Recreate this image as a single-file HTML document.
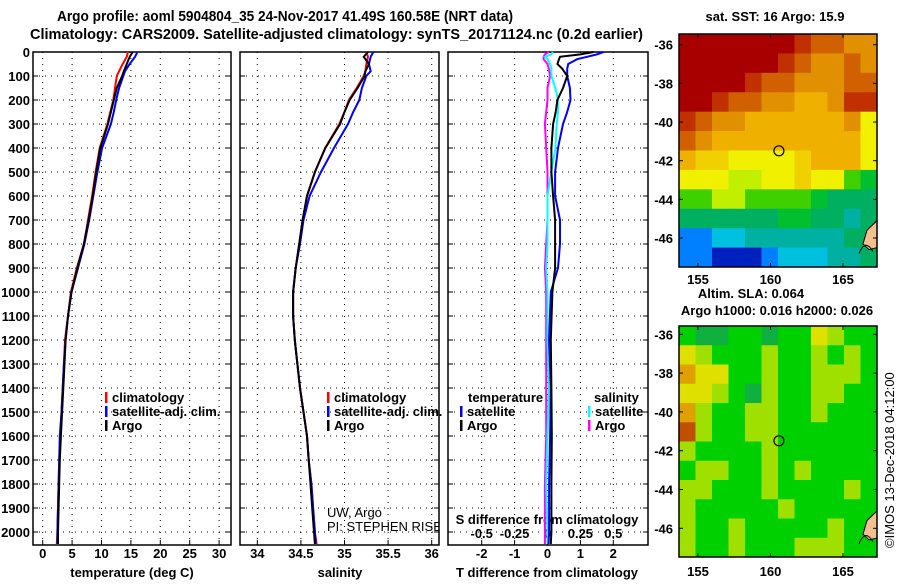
<!DOCTYPE html>
<html><head><meta charset="utf-8">
<style>
body{margin:0;background:#fff;width:900px;height:580px;overflow:hidden;font-family:"Liberation Sans",Arial,sans-serif}
svg text{font-family:"Liberation Sans",Arial,sans-serif}
.b{font-weight:bold;font-size:13px}
</style></head>
<body>
<svg id="s" width="900" height="580" xmlns="http://www.w3.org/2000/svg">
<text x="57" y="21" textLength="456" lengthAdjust="spacingAndGlyphs" font-weight="bold" font-size="15">Argo profile: aoml 5904804_35 24-Nov-2017 41.49S 160.58E (NRT data)</text>
<text x="30" y="39" textLength="613" lengthAdjust="spacingAndGlyphs" font-weight="bold" font-size="15">Climatology: CARS2009. Satellite-adjusted climatology: synTS_20171124.nc (0.2d earlier)</text>
<text x="775" y="21" text-anchor="middle" font-weight="bold" font-size="13">sat. SST: 16 Argo: 15.9</text>
<text x="751" y="298" text-anchor="middle" font-weight="bold" font-size="13">Altim. SLA: 0.064</text>
<text x="777" y="315" text-anchor="middle" font-weight="bold" font-size="13">Argo h1000: 0.016 h2000: 0.026</text>
<text transform="translate(894,548) rotate(-90)" font-size="13">©IMOS 13-Dec-2018 04:12:00</text>
<g id="g"></g>
</svg>
<script>
// ---- profile data ----
const depths=[0,20,50,80,100,150,200,250,300,400,500,600,700,800,900,1000,1100,1200,1300,1400,1500,1600,1700,1800,1900,2000,2050];
const tempClim=[14.5,14.3,13.6,13,12.6,12.3,12,11.5,11,9.7,9.0,8.4,7.7,7.0,5.8,4.8,4.3,3.8,3.6,3.4,3.2,3.0,2.8,2.7,2.6,2.5,2.4];
const tempArgo=[15.3,14.8,14.3,13.8,13.5,12.6,12.1,11.6,11.1,9.8,9.1,8.5,7.8,7.0,5.9,4.9,4.3,3.9,3.7,3.5,3.3,3.1,2.9,2.8,2.7,2.6,2.6];
const tempSat=[16.1,15.7,14.8,14.0,13.7,13.0,12.5,12.1,11.6,10.1,9.3,8.6,7.9,7.1,6.0,4.9,4.3,3.9,3.6,3.4,3.2,2.9,2.8,2.7,2.6,2.5,2.5];
const salClim=[35.25,35.27,35.25,35.24,35.22,35.14,35.05,35.0,34.94,34.78,34.66,34.57,34.52,34.48,34.44,34.41,34.41,34.43,34.46,34.49,34.53,34.57,34.59,34.62,34.64,34.66,34.68];
const salArgo=[35.27,35.22,35.28,35.24,35.23,35.15,35.06,35.0,34.95,34.78,34.66,34.57,34.52,34.48,34.44,34.41,34.41,34.43,34.46,34.49,34.53,34.57,34.59,34.61,34.63,34.65,34.66];
const salSat=[35.33,35.30,35.28,35.30,35.25,35.2,35.17,35.1,35.04,34.88,34.73,34.6,34.53,34.49,34.44,34.41,34.41,34.43,34.46,34.49,34.53,34.57,34.59,34.62,34.64,34.66,34.67];
const diffDepths=[0,10,20,30,50,70,100,150,200,250,300,400,500,600,700,800,900,1000,1200,1400,1600,1800,2000,2050];
const tDiffArgo=[1.4,1.0,0.38,0.35,0.3,0.45,0.6,0.47,0.3,0.25,0.17,0.12,0.12,0.17,0.23,0.23,0.23,0.15,0.1,0.12,0.13,0.12,0.12,0.1];
const tDiffSat=[1.7,1.5,1.2,0.9,0.63,0.6,0.6,0.68,0.7,0.6,0.47,0.32,0.23,0.23,0.38,0.38,0.32,0.1,0.05,0.1,0.08,0.05,0.05,0.03];
const sDiffArgo=[0.01,-0.02,-0.03,-0.03,0.0,0.01,0.02,0.0,0.0,-0.01,-0.02,-0.01,0.0,0.0,0.0,-0.01,-0.02,-0.01,-0.01,-0.01,-0.01,-0.02,-0.02,-0.02];
const sDiffSat=[0.04,0.03,-0.02,0.0,0.02,0.03,0.03,0.06,0.08,0.08,0.07,0.06,0.03,0.0,0.0,0.0,-0.01,0.0,0.0,0.01,0.0,-0.01,0.0,0.0];
const depthTicks=[0,100,200,300,400,500,600,700,800,900,1000,1100,1200,1300,1400,1500,1600,1700,1800,1900,2000];
const tempTicks=[0,5,10,15,20,25,30];
const salTicks=[34,34.5,35,35.5,36];
const salTickLabels=["34","34.5","35","35.5","36"];
const tDiffTicks=[-2,-1,0,1,2];
const sDiffTicks=[-0.5,-0.25,0,0.25,0.5];
const sDiffLabels=["-0.5","-0.25","0","0.25","0.5"];
// ---- map data ----
const sstGrid=[
[9,9,9,9,9,9,9,8.5,8,8,7.5,7.5],
[9,9,9,9,9,9,8.5,8,7.5,7.5,8,7.5],
[9,9,9,9,8.5,8,8,7.5,7.5,7.5,8,8],
[9,9,8.5,8,8,7.5,7.5,7,7,7.5,8.5,8.5],
[8.5,8,7.5,7.5,7,7,7,7,7,7,7.5,6],
[8,7.5,7,7,7,7,7,7,7,7,7,6],
[7,6.5,6.5,6,6,6,6,6.5,7,7,7,6],
[6,6,6,5.5,5.5,6,6,6.5,6,6,5,4.5],
[5,5,5.5,5.5,5,5,5,5,4.5,4,4,4],
[4,4,4,4,4,4,4.5,4.5,4,4,3.8,4],
[2.5,2.5,3,3,3.5,3.5,3.5,3.5,3.5,3.5,4,4],
[2,2,1.5,1,1.5,2.5,3,3,3,3.5,3.5,4]];
const slaGrid=[
[1,0,0,1,1,0,1,1,3,2,1,1],
[3,2,1,1,1,2,1,1,2,1,2,1],
[4,3,3,1,1,2,1,1,2,2,2,1],
[3,3,2,1,0,2,1,1,2,2,1,1],
[4,2,1,1,2,2,1,1,2,1,1,1],
[5,2,1,1,2,2,1,1,1,1,1,1],
[2,1,1,1,1,2,1,1,1,1,1,1],
[1,2,2,1,1,2,1,2,1,1,1,1],
[2,2,1,1,1,2,1,1,1,1,2,1],
[2,1,1,1,1,1,2,1,1,1,1,1],
[2,1,1,2,1,1,1,1,1,2,1,1],
[2,1,1,2,1,1,1,2,2,2,1,1]];
const lonTicks=[155,160,165];
const latTicks=[-36,-38,-40,-42,-44,-46];
const argoLon=160.58, argoLat=-41.49;

const NS="http://www.w3.org/2000/svg", G=document.getElementById('g');
function el(t,a,p){const e=document.createElementNS(NS,t);for(const k in a)e.setAttribute(k,a[k]);(p||G).appendChild(e);return e;}
const yD=d=>52+d*0.24;
const PT={x0:33,x1:231}, PS={x0:240,x1:439}, PD={x0:448,x1:648};
const xT=v=>42.7+v*5.88, xS=v=>257.3+(v-34)*87.2, xTd=v=>547.5+v*32.9, xSd=v=>547.5+v*131.6;
const plotTop=52,plotBot=545;

function frame(P,name){
  const r=el('rect',{x:P.x0,y:plotTop,width:P.x1-P.x0,height:plotBot-plotTop,fill:'none',stroke:'#000','stroke-width':1.5});
  
  
  depthTicks.forEach(d=>{
    const l=el('line',{x1:P.x0,x2:P.x1,y1:yD(d),y2:yD(d),stroke:'#000','stroke-dasharray':'1 5','stroke-width':1});
    
    
    el('line',{x1:P.x0,x2:P.x0+5,y1:yD(d),y2:yD(d),stroke:'#000'});
    el('line',{x1:P.x1-5,x2:P.x1,y1:yD(d),y2:yD(d),stroke:'#000'});
  });
}
function vgrid(P,ticks,f){ticks.forEach(v=>{
  const l=el('line',{x1:f(v),x2:f(v),y1:plotTop,y2:plotBot,stroke:'#000','stroke-dasharray':'1 5'});
  
  
  el('line',{x1:f(v),x2:f(v),y1:plotBot-5,y2:plotBot,stroke:'#000'});
});}
function txt(x,y,s,anchor,name,extra){
  const t=el('text',Object.assign({x:x,y:y,'text-anchor':anchor||'middle','class':'b'},extra||{}));t.textContent=s;
  
  
  return t;}
function line(xs,ds,f,color,name){
  const pts=xs.map((v,i)=>f(v).toFixed(1)+','+yD(ds[i]).toFixed(1)).join(' ');
  const p=el('polyline',{points:pts,fill:'none',stroke:color,'stroke-width':2});
  
  
}
function legend(x,y,color,label){
  el('rect',{x:x,y:y-10,width:2.5,height:11,fill:color});
  txt(x+7,y,label,'start','legend-entry',{'font-size':'12'});
}

// panel 1 temperature
frame(PT,'temperature-panel');
vgrid(PT,tempTicks,xT);
depthTicks.forEach(d=>txt(30,yD(d)+5,String(d),'end','depth-tick-label'));
tempTicks.forEach(v=>txt(xT(v),558,String(v),'middle','temp-tick-label'));
txt(132,577,'temperature (deg C)','middle','temperature-axis-title');
line(tempClim,depths,xT,'#f00','temp-climatology-line');
line(tempSat,depths,xT,'#00f','temp-satellite-line');
line(tempArgo,depths,xT,'#000','temp-argo-line');
legend(105,402,'#f00','climatology');legend(105,416,'#00f','satellite-adj. clim.');legend(105,430,'#000','Argo');

// panel 2 salinity
frame(PS,'salinity-panel');
vgrid(PS,salTicks,xS);
salTicks.forEach((v,i)=>txt(xS(v),558,salTickLabels[i],'middle','salinity-tick-label'));
txt(340,577,'salinity','middle','salinity-axis-title');
line(salClim,depths,xS,'#f00','sal-climatology-line');
line(salSat,depths,xS,'#00f','sal-satellite-line');
line(salArgo,depths,xS,'#000','sal-argo-line');
const cp=el('clipPath',{id:'cpS'});el('rect',{x:240,y:52,width:199,height:493},cp);
const cr=el('g',{'clip-path':'url(#cpS)'});
legend(327,402,'#f00','climatology');legend(327,416,'#00f','satellite-adj. clim.');legend(327,430,'#000','Argo');
let t1=el('text',{x:327,y:517,'font-size':'13'},cr);t1.textContent='UW, Argo';


let t2=el('text',{x:327,y:531,'font-size':'13'},cr);t2.textContent='PI: STEPHEN RISER';



// panel 3 differences
frame(PD,'difference-panel');
vgrid(PD,tDiffTicks,xTd);
tDiffTicks.forEach(v=>txt(xTd(v),558,String(v),'middle','tdiff-tick-label'));
sDiffTicks.forEach((v,i)=>txt(xSd(v),538,sDiffLabels[i],'middle','sdiff-tick-label'));
txt(547,524,'S difference from climatology','middle','sdiff-axis-title');
txt(547,577,'T difference from climatology','middle','tdiff-axis-title');
line(sDiffArgo,diffDepths,xSd,'#f0f','sdiff-argo-line');
line(sDiffSat,diffDepths,xSd,'#0ff','sdiff-satellite-line');
line(tDiffSat,diffDepths,xTd,'#00f','tdiff-satellite-line');
line(tDiffArgo,diffDepths,xTd,'#000','tdiff-argo-line');
txt(468,402,'temperature','start','legend-heading',{'font-size':'12'});
legend(460,416,'#00f','satellite');legend(460,430,'#000','Argo');
txt(594,402,'salinity','start','legend-heading',{'font-size':'12'});
legend(588,416,'#0ff','satellite');legend(588,430,'#f0f','Argo');

// maps
const sstStops=[[0,'#000080'],[1,'#0020c0'],[2,'#0080ff'],[3,'#00c0e0'],[3.5,'#00b0a0'],[4,'#00b060'],[4.5,'#00c030'],[5,'#40d000'],[5.5,'#c0f000'],[6,'#f0f000'],[6.5,'#f0d000'],[7,'#f0b000'],[7.5,'#e09000'],[8,'#d06000'],[8.5,'#c03000'],[9,'#a80000']];
const slaColors=['#10b040','#00d000','#a0e000','#e0e000','#e0a000','#c05000'];
function sstColor(v){let c=sstStops[0][1];sstStops.forEach(s=>{if(v>=s[0])c=s[1];});return c;}
function map(y0,y1,lat36,lat46,grid,colorFn,name,tickY){
  const x0=679,x1=877;
  const xL=lon=>698+(lon-155)*14.5, yL=lat=>lat36+(-36-lat)*(lat46-lat36)/10;
  const g=el('g',{});
  
  
  const rows=grid.length,cols=grid[0].length,cw=(x1-x0)/cols,ch=(y1-y0)/rows;
  grid.forEach((row,r)=>row.forEach((v,c)=>{
    const rc=el('rect',{x:x0+c*cw,y:y0+r*ch,width:cw+0.5,height:ch+0.5,fill:colorFn(v)},g);
    
    
  }));
  el('path',{d:`M${x1} ${yL(-45.1)} L${x1-10} ${yL(-45.6)} L${x1-14} ${yL(-46.3)} L${x1-8} ${yL(-46.6)} L${x1} ${yL(-46.5)} Z`,fill:'#f5c090',stroke:'#000','stroke-width':1},g);
  el('path',{d:`M${x1-18} ${yL(-46.8)} Q${x1-12} ${yL(-46)} ${x1-4} ${yL(-46.7)}`,fill:'none',stroke:'#000'},g);
  el('rect',{x:x0,y:y0,width:x1-x0,height:y1-y0,fill:'none',stroke:'#000','stroke-width':1.5},g);
  const m=el('circle',{cx:xL(argoLon),cy:yL(argoLat),r:5,fill:'none',stroke:'#000','stroke-width':1.2},g);
  
  
  latTicks.forEach(l=>{txt(673,yL(l)+5,String(l),'end','lat-tick-label');
    el('line',{x1:x0,x2:x0+4,y1:yL(l),y2:yL(l),stroke:'#000'},g);el('line',{x1:x1-4,x2:x1,y1:yL(l),y2:yL(l),stroke:'#000'},g);});
  lonTicks.forEach(l=>{txt(xL(l),tickY,String(l),'middle','lon-tick-label');
    el('line',{x1:xL(l),x2:xL(l),y1:y1-4,y2:y1,stroke:'#000'},g);el('line',{x1:xL(l),x2:xL(l),y1:y0,y2:y0+4,stroke:'#000'},g);});
}
map(34,267,44.7,238,sstGrid,sstColor,'sst-map',284);
map(326,557,334.3,528.3,slaGrid,v=>slaColors[v],'sla-map',576);
</script>
</body></html>
